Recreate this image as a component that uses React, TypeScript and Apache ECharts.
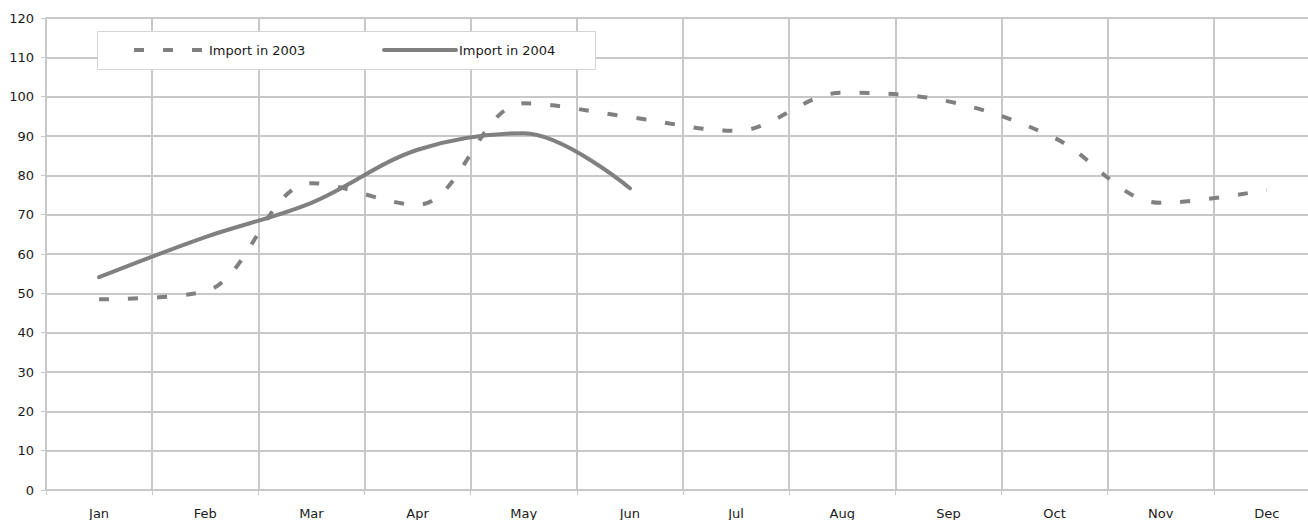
import React, { useEffect, useRef } from "react";
import * as echarts from "echarts";

const months = ["Jan", "Feb", "Mar", "Apr", "May", "Jun", "Jul", "Aug", "Sep", "Oct", "Nov", "Dec"];
const import2003 = [48.5, 50.5, 78, 72.5, 98.3, 94.8, 91.3, 101, 98.8, 89.5, 73, 76.3];
const import2004 = [54.1, 64.3, 73, 86.5, 90.7, 76.7];
const seriesNames = ["Import in 2003", "Import in 2004"];
const yMin = 0;
const yMax = 120;
const yStep = 10;

const LINE_COLOR = "#808080";
const GRID_COLOR = "#c8c8c8";
const TEXT_COLOR = "#1a1a1a";
const FONT = "DejaVu Sans";
const DASH = [10, 19];

export default function App() {
  const ref = useRef<HTMLDivElement>(null);
  useEffect(() => {
    if (!ref.current) return;
    const chart = echarts.init(ref.current, undefined, { renderer: "svg" });
    chart.setOption({
      animation: false,
      backgroundColor: "#ffffff",
      textStyle: { fontFamily: FONT },
      grid: { left: 46, right: 0, top: 18, bottom: 30, containLabel: false },
      graphic: [
        {
          type: "group",
          z: 10,
          children: [
            {
              type: "rect",
              z: 10,
              shape: { x: 97.5, y: 31.5, width: 498, height: 38 },
              style: { fill: "#ffffff", stroke: "#d4d4d4", lineWidth: 1 },
            },
            {
              type: "line",
              z: 11,
              shape: { x1: 134, y1: 50, x2: 202, y2: 50 },
              style: { stroke: LINE_COLOR, lineWidth: 4, lineDash: DASH, lineCap: "butt" },
            },
            {
              type: "text",
              z: 11,
              x: 209,
              y: 50,
              style: {
                text: seriesNames[0],
                fill: TEXT_COLOR,
                font: `13px "${FONT}"`,
                verticalAlign: "middle",
                align: "left",
              },
            },
            {
              type: "line",
              z: 11,
              shape: { x1: 384, y1: 50, x2: 456, y2: 50 },
              style: { stroke: LINE_COLOR, lineWidth: 4, lineCap: "round" },
            },
            {
              type: "text",
              z: 11,
              x: 459,
              y: 50,
              style: {
                text: seriesNames[1],
                fill: TEXT_COLOR,
                font: `13px "${FONT}"`,
                verticalAlign: "middle",
                align: "left",
              },
            },
          ],
        },
      ],
      xAxis: {
        type: "category",
        data: months,
        boundaryGap: true,
        axisLine: { show: true, lineStyle: { color: GRID_COLOR, width: 1.5 } },
        axisTick: { show: true, length: 5, alignWithLabel: false, lineStyle: { color: GRID_COLOR, width: 1 } },
        splitLine: { show: true, lineStyle: { color: GRID_COLOR, width: 2 } },
        axisLabel: { fontFamily: FONT, fontSize: 13, color: TEXT_COLOR, margin: 17, interval: 0 },
      },
      yAxis: {
        type: "value",
        min: yMin,
        max: yMax,
        interval: yStep,
        axisLine: { show: true, lineStyle: { color: GRID_COLOR, width: 1.5 } },
        axisTick: { show: true, length: 5, lineStyle: { color: GRID_COLOR, width: 1 } },
        splitLine: { show: true, lineStyle: { color: GRID_COLOR, width: 2 } },
        axisLabel: { fontFamily: FONT, fontSize: 13, color: TEXT_COLOR, margin: 12 },
      },
      series: [
        {
          name: seriesNames[0],
          type: "line",
          data: import2003,
          smooth: 0.35,
          symbol: "none",
          showSymbol: false,
          z: 2,
          lineStyle: { color: LINE_COLOR, width: 4, type: DASH, cap: "butt" },
          itemStyle: { color: LINE_COLOR },
        },
        {
          name: seriesNames[1],
          type: "line",
          data: import2004,
          smooth: 0.35,
          symbol: "none",
          showSymbol: false,
          z: 2,
          lineStyle: { color: LINE_COLOR, width: 4, type: "solid", cap: "round" },
          itemStyle: { color: LINE_COLOR },
        },
      ],
    });
    return () => chart.dispose();
  }, []);
  return (
    <div
      style={{
        position: "fixed",
        left: 0,
        top: 0,
        width: 1308,
        height: 520,
        overflow: "hidden",
        background: "#fff",
      }}
    >
      <div ref={ref} style={{ width: 1320, height: 520 }} />
    </div>
  );
}
